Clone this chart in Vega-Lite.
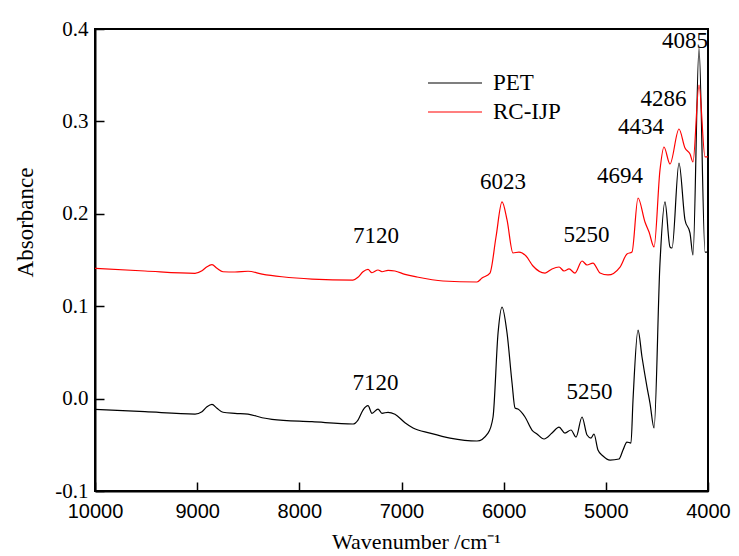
{
  "$schema": "https://vega.github.io/schema/vega-lite/v6.json",
  "width": 613,
  "height": 462,
  "autosize": {"type": "none"},
  "padding": {"left": 95, "top": 29, "right": 31, "bottom": 65},
  "background": "white",
  "config": {
    "view": {"stroke": "black", "strokeWidth": 2},
    "axis": {"grid": false, "domainColor": "black", "domainWidth": 2, "tickColor": "black", "tickWidth": 1.5, "tickSize": -9, "labelColor": "black", "titleColor": "black", "labelFlush": false, "labelOverlap": false, "titleFontWeight": "normal"}
  },
  "datasets": {
    "spectra": [
      {"wn": 10000, "a": -0.0116, "s": "PET"},
      {"wn": 9511, "a": -0.0142, "s": "PET"},
      {"wn": 9021, "a": -0.0167, "s": "PET"},
      {"wn": 8953, "a": -0.0142, "s": "PET"},
      {"wn": 8904, "a": -0.0088, "s": "PET"},
      {"wn": 8855, "a": -0.0062, "s": "PET"},
      {"wn": 8806, "a": -0.0105, "s": "PET"},
      {"wn": 8747, "a": -0.0148, "s": "PET"},
      {"wn": 8630, "a": -0.0159, "s": "PET"},
      {"wn": 8502, "a": -0.0167, "s": "PET"},
      {"wn": 8365, "a": -0.0207, "s": "PET"},
      {"wn": 8268, "a": -0.0224, "s": "PET"},
      {"wn": 7876, "a": -0.0250, "s": "PET"},
      {"wn": 7475, "a": -0.0275, "s": "PET"},
      {"wn": 7426, "a": -0.0232, "s": "PET"},
      {"wn": 7377, "a": -0.0124, "s": "PET"},
      {"wn": 7328, "a": -0.0077, "s": "PET"},
      {"wn": 7289, "a": -0.0159, "s": "PET"},
      {"wn": 7230, "a": -0.0113, "s": "PET"},
      {"wn": 7191, "a": -0.0159, "s": "PET"},
      {"wn": 7132, "a": -0.0148, "s": "PET"},
      {"wn": 7064, "a": -0.0170, "s": "PET"},
      {"wn": 6966, "a": -0.0261, "s": "PET"},
      {"wn": 6887, "a": -0.0318, "s": "PET"},
      {"wn": 6721, "a": -0.0373, "s": "PET"},
      {"wn": 6525, "a": -0.0427, "s": "PET"},
      {"wn": 6261, "a": -0.0459, "s": "PET"},
      {"wn": 6153, "a": -0.0373, "s": "PET"},
      {"wn": 6104, "a": -0.0199, "s": "PET"},
      {"wn": 6055, "a": 0.0710, "s": "PET"},
      {"wn": 6016, "a": 0.0991, "s": "PET"},
      {"wn": 5967, "a": 0.0710, "s": "PET"},
      {"wn": 5918, "a": 0.0169, "s": "PET"},
      {"wn": 5889, "a": -0.0102, "s": "PET"},
      {"wn": 5860, "a": -0.0113, "s": "PET"},
      {"wn": 5791, "a": -0.0199, "s": "PET"},
      {"wn": 5723, "a": -0.0340, "s": "PET"},
      {"wn": 5674, "a": -0.0383, "s": "PET"},
      {"wn": 5605, "a": -0.0437, "s": "PET"},
      {"wn": 5527, "a": -0.0373, "s": "PET"},
      {"wn": 5458, "a": -0.0308, "s": "PET"},
      {"wn": 5400, "a": -0.0373, "s": "PET"},
      {"wn": 5341, "a": -0.0340, "s": "PET"},
      {"wn": 5292, "a": -0.0416, "s": "PET"},
      {"wn": 5233, "a": -0.0199, "s": "PET"},
      {"wn": 5184, "a": -0.0394, "s": "PET"},
      {"wn": 5145, "a": -0.0427, "s": "PET"},
      {"wn": 5116, "a": -0.0383, "s": "PET"},
      {"wn": 5077, "a": -0.0556, "s": "PET"},
      {"wn": 5028, "a": -0.0621, "s": "PET"},
      {"wn": 4959, "a": -0.0665, "s": "PET"},
      {"wn": 4871, "a": -0.0654, "s": "PET"},
      {"wn": 4832, "a": -0.0556, "s": "PET"},
      {"wn": 4793, "a": -0.0470, "s": "PET"},
      {"wn": 4754, "a": -0.0481, "s": "PET"},
      {"wn": 4734, "a": -0.0015, "s": "PET"},
      {"wn": 4685, "a": 0.0742, "s": "PET"},
      {"wn": 4646, "a": 0.0450, "s": "PET"},
      {"wn": 4597, "a": 0.0125, "s": "PET"},
      {"wn": 4568, "a": -0.0048, "s": "PET"},
      {"wn": 4528, "a": -0.0318, "s": "PET"},
      {"wn": 4470, "a": 0.1467, "s": "PET"},
      {"wn": 4421, "a": 0.2128, "s": "PET"},
      {"wn": 4372, "a": 0.1641, "s": "PET"},
      {"wn": 4352, "a": 0.1630, "s": "PET"},
      {"wn": 4284, "a": 0.2550, "s": "PET"},
      {"wn": 4225, "a": 0.1933, "s": "PET"},
      {"wn": 4176, "a": 0.1792, "s": "PET"},
      {"wn": 4147, "a": 0.1554, "s": "PET"},
      {"wn": 4088, "a": 0.3794, "s": "PET"},
      {"wn": 4029, "a": 0.1586, "s": "PET"},
      {"wn": 4000, "a": 0.1586, "s": "PET"},
      {"wn": 10000, "a": 0.1410, "s": "RC-IJP"},
      {"wn": 9511, "a": 0.1381, "s": "RC-IJP"},
      {"wn": 9021, "a": 0.1356, "s": "RC-IJP"},
      {"wn": 8953, "a": 0.1384, "s": "RC-IJP"},
      {"wn": 8904, "a": 0.1427, "s": "RC-IJP"},
      {"wn": 8855, "a": 0.1449, "s": "RC-IJP"},
      {"wn": 8806, "a": 0.1410, "s": "RC-IJP"},
      {"wn": 8747, "a": 0.1373, "s": "RC-IJP"},
      {"wn": 8630, "a": 0.1370, "s": "RC-IJP"},
      {"wn": 8502, "a": 0.1378, "s": "RC-IJP"},
      {"wn": 8365, "a": 0.1348, "s": "RC-IJP"},
      {"wn": 8170, "a": 0.1319, "s": "RC-IJP"},
      {"wn": 7876, "a": 0.1294, "s": "RC-IJP"},
      {"wn": 7475, "a": 0.1283, "s": "RC-IJP"},
      {"wn": 7426, "a": 0.1313, "s": "RC-IJP"},
      {"wn": 7377, "a": 0.1373, "s": "RC-IJP"},
      {"wn": 7328, "a": 0.1399, "s": "RC-IJP"},
      {"wn": 7289, "a": 0.1362, "s": "RC-IJP"},
      {"wn": 7230, "a": 0.1392, "s": "RC-IJP"},
      {"wn": 7191, "a": 0.1373, "s": "RC-IJP"},
      {"wn": 7132, "a": 0.1388, "s": "RC-IJP"},
      {"wn": 7064, "a": 0.1381, "s": "RC-IJP"},
      {"wn": 6966, "a": 0.1345, "s": "RC-IJP"},
      {"wn": 6848, "a": 0.1316, "s": "RC-IJP"},
      {"wn": 6594, "a": 0.1273, "s": "RC-IJP"},
      {"wn": 6261, "a": 0.1262, "s": "RC-IJP"},
      {"wn": 6212, "a": 0.1305, "s": "RC-IJP"},
      {"wn": 6134, "a": 0.1359, "s": "RC-IJP"},
      {"wn": 6075, "a": 0.1749, "s": "RC-IJP"},
      {"wn": 6016, "a": 0.2128, "s": "RC-IJP"},
      {"wn": 5967, "a": 0.1933, "s": "RC-IJP"},
      {"wn": 5909, "a": 0.1576, "s": "RC-IJP"},
      {"wn": 5850, "a": 0.1586, "s": "RC-IJP"},
      {"wn": 5781, "a": 0.1543, "s": "RC-IJP"},
      {"wn": 5713, "a": 0.1435, "s": "RC-IJP"},
      {"wn": 5595, "a": 0.1359, "s": "RC-IJP"},
      {"wn": 5527, "a": 0.1403, "s": "RC-IJP"},
      {"wn": 5458, "a": 0.1424, "s": "RC-IJP"},
      {"wn": 5409, "a": 0.1381, "s": "RC-IJP"},
      {"wn": 5360, "a": 0.1403, "s": "RC-IJP"},
      {"wn": 5302, "a": 0.1359, "s": "RC-IJP"},
      {"wn": 5233, "a": 0.1489, "s": "RC-IJP"},
      {"wn": 5184, "a": 0.1446, "s": "RC-IJP"},
      {"wn": 5126, "a": 0.1467, "s": "RC-IJP"},
      {"wn": 5057, "a": 0.1359, "s": "RC-IJP"},
      {"wn": 4979, "a": 0.1338, "s": "RC-IJP"},
      {"wn": 4861, "a": 0.1424, "s": "RC-IJP"},
      {"wn": 4793, "a": 0.1565, "s": "RC-IJP"},
      {"wn": 4744, "a": 0.1586, "s": "RC-IJP"},
      {"wn": 4685, "a": 0.2171, "s": "RC-IJP"},
      {"wn": 4617, "a": 0.1911, "s": "RC-IJP"},
      {"wn": 4577, "a": 0.1803, "s": "RC-IJP"},
      {"wn": 4528, "a": 0.1641, "s": "RC-IJP"},
      {"wn": 4470, "a": 0.2474, "s": "RC-IJP"},
      {"wn": 4431, "a": 0.2723, "s": "RC-IJP"},
      {"wn": 4372, "a": 0.2539, "s": "RC-IJP"},
      {"wn": 4284, "a": 0.2918, "s": "RC-IJP"},
      {"wn": 4225, "a": 0.2712, "s": "RC-IJP"},
      {"wn": 4176, "a": 0.2647, "s": "RC-IJP"},
      {"wn": 4147, "a": 0.2561, "s": "RC-IJP"},
      {"wn": 4088, "a": 0.3394, "s": "RC-IJP"},
      {"wn": 4029, "a": 0.2615, "s": "RC-IJP"},
      {"wn": 4000, "a": 0.2615, "s": "RC-IJP"}
    ],
    "labels": [
      {"wn": 4225, "a": 0.3865, "label": "4085"},
      {"wn": 4435, "a": 0.3242, "label": "4286"},
      {"wn": 4656, "a": 0.2939, "label": "4434"},
      {"wn": 4861, "a": 0.2409, "label": "4694"},
      {"wn": 6007, "a": 0.2344, "label": "6023"},
      {"wn": 7250, "a": 0.1760, "label": "7120"},
      {"wn": 5189, "a": 0.1770, "label": "5250"},
      {"wn": 7254, "a": 0.0174, "label": "7120"},
      {"wn": 5160, "a": 0.0071, "label": "5250"}
    ]
  },
  "layer": [
    {
      "data": {"name": "spectra"},
      "mark": {"type": "line", "strokeWidth": 1.2, "interpolate": "monotone", "clip": true},
      "encoding": {
        "x": {
          "field": "wn", "type": "quantitative",
          "scale": {"domain": [4000, 10000], "reverse": true, "nice": false, "zero": false},
          "axis": {
            "values": [4000, 5000, 6000, 7000, 8000, 9000, 10000],
            "format": "d",
            "labelFont": "Liberation Sans", "labelFontSize": 20, "labelPadding": 19,
            "title": "Wavenumber /cm⁻¹", "titleFont": "Liberation Serif", "titleFontSize": 22,
            "titlePadding": 10, "titleX": 321, "titleAlign": "center"
          }
        },
        "y": {
          "field": "a", "type": "quantitative",
          "scale": {"domain": [-0.1, 0.4], "nice": false, "zero": false},
          "axis": {
            "values": [-0.1, 0, 0.1, 0.2, 0.3, 0.4],
            "labelExpr": "replace(format(datum.value, '.1f'), '−', '-')",
            "labelFont": "Liberation Serif", "labelFontSize": 21, "labelPadding": 16,
            "title": "Absorbance", "titleFont": "Liberation Serif", "titleFontSize": 23,
            "titleX": -70, "titleY": 193, "titleAngle": -90, "titleBaseline": "middle", "titleAlign": "center"
          }
        },
        "color": {
          "field": "s", "type": "nominal",
          "scale": {"domain": ["PET", "RC-IJP"], "range": ["black", "red"]},
          "legend": {
            "title": null, "orient": "none", "legendX": 332, "legendY": 43,
            "symbolType": "stroke", "symbolSize": 2916, "symbolStrokeWidth": 1.2,
            "clipHeight": 22,
            "labelFont": "Liberation Serif", "labelFontSize": 23, "labelColor": "black",
            "labelOffset": 10, "rowPadding": 6
          }
        }
      }
    },
    {
      "data": {"name": "labels"},
      "mark": {"type": "text", "font": "Liberation Serif", "fontSize": 23, "color": "black", "align": "center", "baseline": "middle"},
      "encoding": {
        "x": {"field": "wn", "type": "quantitative"},
        "y": {"field": "a", "type": "quantitative"},
        "text": {"field": "label"}
      }
    }
  ]
}
